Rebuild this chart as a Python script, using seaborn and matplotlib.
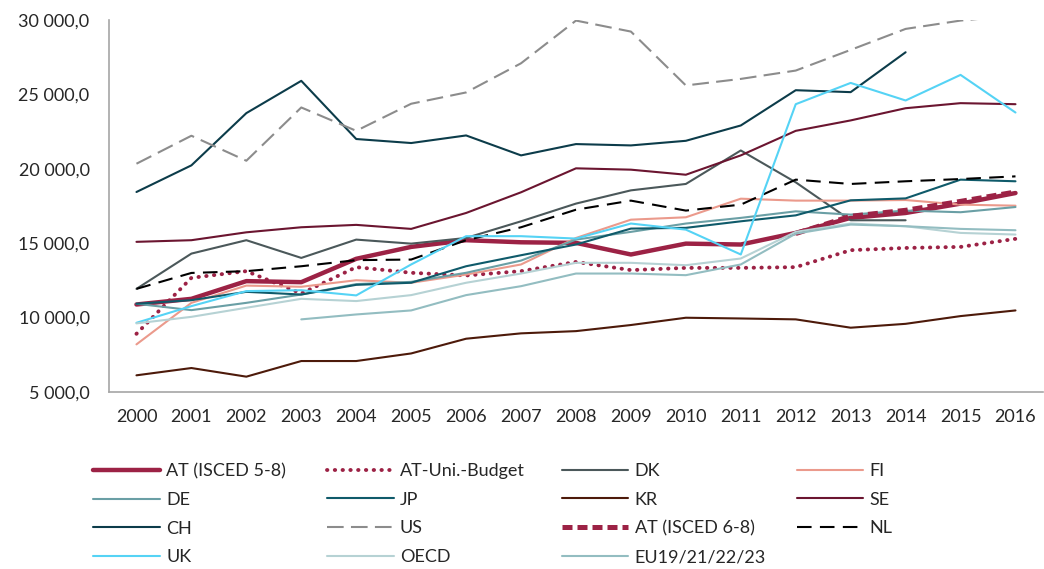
import numpy as np
import matplotlib
matplotlib.use("Agg")
import matplotlib.pyplot as plt
import matplotlib.ticker as mticker
import seaborn as sns

years = list(range(2000, 2017))
nan = np.nan

# values
at_isced_58 = [10880, 11260, 12450, 12380, 13950, 14750, 15200, 15060, 15020, 14240, 14970,
               14910, 15690, 16700, 17030, 17660, 18370]
at_uni_budget = [8910, 12670, 13120, 11620, 13390, 13010, 12830, 13120, 13740, 13190, 13340,
                 13340, 13390, 14530, 14680, 14750, 15290]
dk = [11930, 14300, 15200, 14010, 15240, 14970, 15350, 16470, 17660, 18550, 18980,
      21230, 19090, 16540, 16540, nan, nan]
fi = [8200, 10990, 12150, 12070, 12510, 12340, 12890, 13570, 15350, 16580, 16740,
      17990, 17860, 17860, 17900, 17590, 17520]
de = [10930, 10500, 10990, 11550, 12250, 12400, 13010, 13830, 15240, 15760, 16320,
      16700, 17140, 16920, 17190, 17080, 17430]
jp = [10930, 11170, 11730, 11550, 12200, 12340, 13450, 14190, 14910, 15980, 16030,
      16470, 16870, 17880, 18010, 19270, 19160]
kr = [6120, 6610, 6030, 7080, 7080, 7590, 8580, 8940, 9090, 9500, 9990,
      9940, 9880, 9320, 9580, 10100, 10480]
se = [15090, 15200, 15730, 16070, 16230, 15960, 17030, 18420, 20030, 19940, 19600,
      20900, 22550, 23250, 24070, 24410, 24340]
ch = [18440, 20230, 23740, 25910, 22000, 21730, 22240, 20900, 21660, 21570, 21880,
      22910, 25280, 25150, 27830, nan, nan]
us = [20340, 22220, 20540, 24120, 22550, 24370, 25130, 27090, 29960, 29220, 25600,
      26040, 26600, 27990, 29400, 29960, 30300]
at_isced_68 = [nan, nan, nan, nan, nan, nan, nan, nan, nan, nan, nan,
               nan, 15650, 16810, 17210, 17810, 18440]
nl = [11930, 13000, 13120, 13450, 13860, 13900, 15200, 16070, 17250, 17860, 17190,
      17590, 19270, 18980, 19160, 19310, 19490]
uk = [9650, 10770, 11780, 11840, 11490, 13570, 15470, 15470, 15310, 16320, 15910,
      14240, 24340, 25770, 24590, 26310, 23780]
oecd = [9610, 10050, 10660, 11260, 11110, 11510, 12340, 12960, 13680, 13680, 13520,
        13970, 15760, 16320, 16140, 15690, 15580]
eu = [nan, nan, nan, 9880, 10210, 10480, 11510, 12110, 12960, 12960, 12850,
      13570, 15640, 16250, 16140, 15960, 15870]

series = [
    ("AT (ISCED 5-8)", at_isced_58, "#9c2245", 3.2, "-"),
    ("AT-Uni.-Budget", at_uni_budget, "#9c2245", 2.8, (0, (0.1, 1.9))),
    ("DK", dk, "#4b585a", 1.5, "-"),
    ("FI", fi, "#eb9a8c", 1.5, "-"),
    ("DE", de, "#6a9fa5", 1.5, "-"),
    ("JP", jp, "#0f5a6a", 1.5, "-"),
    ("KR", kr, "#4d1a0a", 1.5, "-"),
    ("SE", se, "#6b1530", 1.5, "-"),
    ("CH", ch, "#0c3c4a", 1.5, "-"),
    ("US", us, "#8c8c8c", 1.5, (0, (8, 3.5))),
    ("AT (ISCED 6-8)", at_isced_68, "#9c2245", 3.6, (0, (2, 1))),
    ("NL", nl, "#000000", 1.5, (0, (7, 4))),
    ("UK", uk, "#55d3f5", 1.5, "-"),
    ("OECD", oecd, "#b6d2d4", 1.5, "-"),
    ("EU19/21/22/23", eu, "#93bdc1", 1.5, "-"),
]

sns.set_style("white")
plt.rcParams["font.family"] = ["Lato", "DejaVu Sans"]
text_color = "#262626"

fig = plt.figure(figsize=(10.44, 5.69), dpi=100)
ax = fig.add_axes([0.1044, 0.3111, 0.8946, 0.6538])

handles = []
for name, vals, color, lw, ls in series:
    sns.lineplot(x=years, y=vals, color=color, linewidth=lw, linestyle=ls, ax=ax, legend=False)
    line = ax.lines[-1]
    line.set_dash_capstyle("round" if name == "AT-Uni.-Budget" else "butt")
    line.set_label(name)
    handles.append(line)

ax.set_xlim(1999.5, 2016.5)
ax.set_ylim(5000, 30000)
ax.set_xticks(years)
ax.set_xticklabels([str(y) for y in years])
ax.set_xticks(np.arange(1999.5, 2017, 1), minor=True)
ax.set_yticks(range(5000, 30001, 5000))
ax.yaxis.set_major_formatter(mticker.FuncFormatter(
    lambda v, p: f"{v:,.1f}".replace(",", " ").replace(".", ",")))

ax.tick_params(axis="x", which="major", length=0, pad=12, labelsize=13, labelcolor=text_color)
ax.tick_params(axis="x", which="minor", length=6, width=1.2, color="#a6a6a6", direction="out")
ax.tick_params(axis="y", length=6, width=1.2, color="#a6a6a6", direction="out", pad=8,
               labelsize=13, labelcolor=text_color)
ax.set_xlabel("")
ax.set_ylabel("")

for side in ["top", "right"]:
    ax.spines[side].set_visible(False)
for side in ["left", "bottom"]:
    ax.spines[side].set_color("#a6a6a6")
    ax.spines[side].set_linewidth(1.2)

# legend: four columns below the plot, row-major order as in the reference
col_x = [0.089, 0.313, 0.538, 0.763]
for c in range(4):
    leg = fig.legend(handles=handles[c::4], loc="upper left", bbox_to_anchor=(col_x[c], 0.186),
                     frameon=False, fontsize=13, handlelength=3.7, handletextpad=0.35,
                     labelspacing=0.7, borderaxespad=0, borderpad=0)
    for t in leg.get_texts():
        t.set_color(text_color)

plt.savefig("out.png", dpi=100)
